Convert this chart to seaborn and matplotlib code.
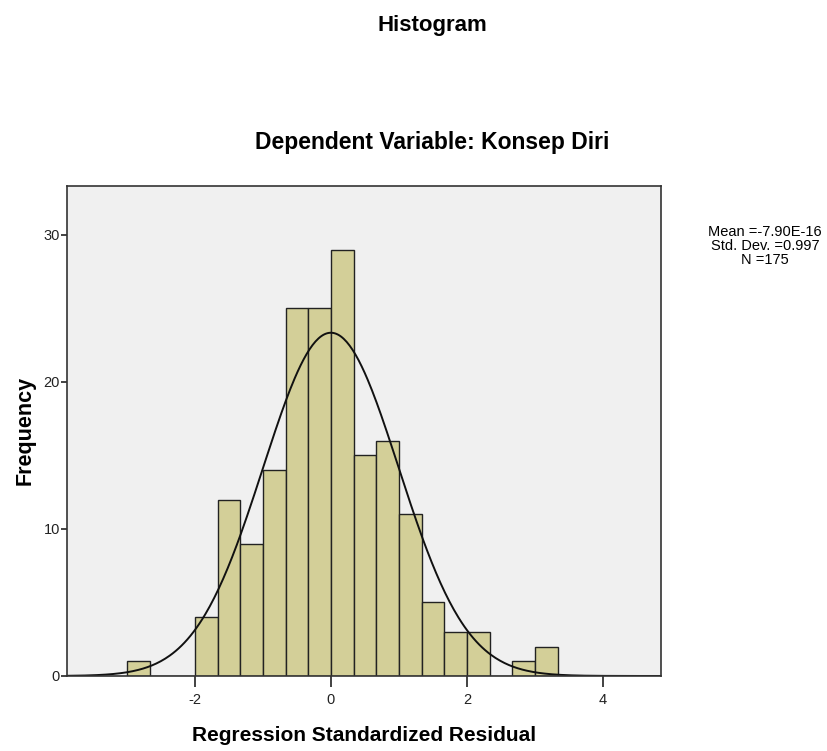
import numpy as np
import pandas as pd
import matplotlib
matplotlib.use("Agg")
import matplotlib.pyplot as plt
import seaborn as sns

# histogram bins (width 1/3) and counts
bin_edges = [k / 3.0 for k in range(-9, 11)]
counts = [1, 0, 0, 4, 12, 9, 14, 25, 25, 29, 15, 16, 11, 5, 3, 3, 0, 1, 2]
mean_val = -7.90e-16
std_val = 0.997
n_total = 175

centers = [(a + b) / 2 for a, b in zip(bin_edges[:-1], bin_edges[1:])]
df = pd.DataFrame({"resid": centers, "count": counts})

sns.set_style("white")
plt.rcParams["font.family"] = ["Liberation Sans", "DejaVu Sans"]
plt.rcParams["axes.unicode_minus"] = False
plt.rcParams["text.color"] = "black"

fig = plt.figure(figsize=(8.27, 7.51), dpi=100)
ax = fig.add_axes([0.081, 0.0999, 0.718, 0.653])
ax.set_facecolor("#f0f0f0")

sns.histplot(data=df, x="resid", weights="count", bins=bin_edges, ax=ax,
             color="#d3cf98", edgecolor="#222222", linewidth=1.0, alpha=1)

# fitted normal curve
xs = np.linspace(-3.88, 4.85, 400)
binw = bin_edges[1] - bin_edges[0]
ys = n_total * binw / (std_val * np.sqrt(2 * np.pi)) * np.exp(-0.5 * ((xs - mean_val) / std_val) ** 2)
sns.lineplot(x=xs, y=ys, ax=ax, color="#111111", linewidth=1.4)

ax.set_xlim(-3.88, 4.85)
ax.set_ylim(0, 33.35)
ax.set_xticks([-2, 0, 2, 4])
ax.set_yticks([0, 10, 20, 30])
ax.tick_params(axis="x", direction="out", length=8, width=1.2, color="#222222",
               labelsize=10.5, labelcolor="#222222", pad=4, bottom=True)
ax.tick_params(axis="y", direction="out", length=4, width=1.2, color="#222222",
               labelsize=10.5, labelcolor="#222222", pad=1, left=True)
for s in ax.spines.values():
    s.set_color("#333333")
    s.set_linewidth(1.2)

ax.set_xlabel("Regression Standardized Residual", fontsize=15, fontweight="bold",
              labelpad=14, color="black")
ax.set_ylabel("Frequency", fontsize=15.5, fontweight="bold", labelpad=6, color="black")

fig.text(432 / 827, 1 - 25 / 751, "Histogram", ha="center", va="center",
         fontsize=16, fontweight="bold")
fig.text(432 / 827, 1 - 143 / 751, "Dependent Variable: Konsep Diri", ha="center", va="center",
         fontsize=16.5, fontweight="bold")
fig.text(765 / 827, 1 - 246 / 751,
         "Mean =-7.90E-16\nStd. Dev. =0.997\nN =175",
         ha="center", va="center", fontsize=10.5, linespacing=1.0)

fig.savefig("out.png", dpi=100, facecolor="white")
